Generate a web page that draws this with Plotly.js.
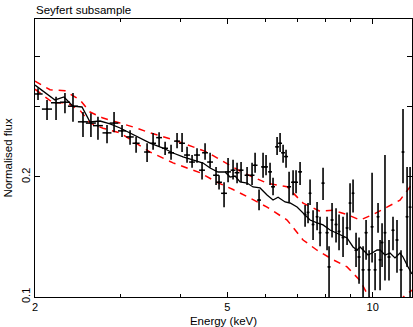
<!DOCTYPE html>
<html>
<head>
<meta charset="utf-8">
<script src="https://cdn.plot.ly/plotly-3.0.1.min.js"></script>
<style>html,body{margin:0;padding:0;background:#fff;}#chart{width:413px;height:327px;}</style>
</head>
<body>
<div id="chart"></div>
<script>
// Observed spectrum (energy in keV, normalised flux, error range)
const energy = [2.029,2.118,2.211,2.307,2.397,2.514,2.611,2.700,2.819,2.915,3.028,3.146,3.238,
  3.412,3.511,3.613,3.718,3.825,3.936,4.031,4.128,4.228,4.329,4.434,4.498,4.607,4.740,4.808,4.924,5.019,5.140,5.239,5.340,5.495,5.627,5.709,
  5.818,5.930,6.015,6.131,6.219,6.340,6.431,6.524,6.617,6.713,6.842,6.940,7.074,
  7.245,7.348,7.419,7.526,7.671,7.781,7.893,8.045,8.122,8.239,8.397,8.518,8.682,8.850,8.977,9.106,9.237,9.370,9.551,9.689,9.828,9.970,10.114,10.258,10.357,10.456,10.603,10.808,11.016,11.228,11.445,11.554,11.780,11.950];
const energyHalfWidth = [0.045,0.051,0.053,0.055,0.057,0.060,0.062,0.064,0.060,0.062,0.058,0.056,0.055,
  0.048,0.049,0.050,0.052,0.054,0.055,0.056,0.058,0.059,0.061,0.062,0.063,0.064,0.066,0.067,0.069,0.070,0.060,0.061,0.062,0.064,0.066,0.067,
  0.055,0.056,0.057,0.058,0.059,0.060,0.061,0.062,0.063,0.064,0.065,0.066,0.067,
  0.05,0.05,0.05,0.05,0.05,0.05,0.06,0.06,0.06,0.06,0.06,0.06,0.06,0.06,0.06,0.06,0.07,0.07,0.07,0.07,0.07,0.07,0.07,0.07,0.07,0.07,0.07,0.08,0.08,0.08,0.08,0.08,0.08,0.08];
const flux = [0.323,0.296,0.307,0.308,0.301,0.275,0.273,0.269,0.258,0.273,0.261,0.252,0.243,
  0.231,0.243,0.251,0.236,0.230,0.246,0.243,0.227,0.218,0.227,0.208,0.230,0.218,0.202,0.194,0.182,0.206,0.208,0.205,0.208,0.202,0.202,0.214,
  0.175,0.212,0.212,0.206,0.189,0.238,0.243,0.230,0.225,0.189,0.194,0.194,0.206,
  0.161,0.163,0.182,0.152,0.159,0.145,0.193,0.145,0.119,0.156,0.152,0.146,0.141,0.149,0.172,0.182,0.131,0.126,0.117,0.145,0.117,0.150,0.117,0.159,0.124,0.137,0.145,0.126,0.147,0.139,0.117,0.231,0.159,0.168];
const fluxLow = [0.312,0.278,0.278,0.289,0.275,0.252,0.252,0.248,0.243,0.259,0.252,0.241,0.230,
  0.218,0.234,0.238,0.227,0.221,0.236,0.231,0.217,0.211,0.217,0.197,0.221,0.211,0.191,0.186,0.168,0.194,0.197,0.193,0.194,0.191,0.191,0.205,
  0.165,0.199,0.202,0.191,0.180,0.227,0.231,0.217,0.211,0.173,0.180,0.182,0.191,
  0.150,0.153,0.170,0.139,0.147,0.134,0.175,0.131,0.100,0.141,0.137,0.131,0.126,0.135,0.147,0.163,0.119,0.108,0.098,0.124,0.095,0.122,0.104,0.145,0.104,0.119,0.110,0.110,0.131,0.115,0.095,0.193,0.119,0.095];
const fluxHigh = [0.334,0.312,0.318,0.325,0.325,0.291,0.289,0.283,0.270,0.291,0.270,0.262,0.252,
  0.243,0.258,0.259,0.245,0.241,0.258,0.258,0.238,0.227,0.236,0.218,0.243,0.230,0.212,0.202,0.194,0.223,0.221,0.217,0.218,0.212,0.217,0.230,
  0.186,0.230,0.227,0.217,0.199,0.252,0.258,0.241,0.234,0.206,0.208,0.208,0.218,
  0.170,0.172,0.197,0.165,0.173,0.159,0.211,0.159,0.134,0.172,0.167,0.161,0.159,0.163,0.193,0.197,0.145,0.141,0.134,0.156,0.131,0.205,0.129,0.172,0.139,0.153,0.227,0.139,0.159,0.156,0.131,0.296,0.212,0.212];

// Best-fit model (solid black)
const modelEnergy = [2.000,2.108,2.200,2.296,2.397,2.502,2.600,2.727,2.860,3.000,3.146,3.300,3.461,3.682,3.862,4.050,4.248,4.455,4.607,4.785,4.948,5.067,5.190,5.315,5.495,5.654,5.846,6.044,6.219,6.370,6.586,6.745,6.974,7.176,7.419,7.671,7.893,8.161,8.397,8.641,8.850,9.106,9.281,9.415,9.643,9.781,9.970,10.210,10.357,10.603,10.860,11.121,11.390,11.554,11.836,12.060];
const modelFlux = [0.340,0.325,0.312,0.3175,0.301,0.2996,0.2747,0.2763,0.2716,0.2654,0.2578,0.2505,0.2433,0.2364,0.2297,0.2245,0.2206,0.2168,0.2106,0.2058,0.2058,0.1999,0.2011,0.1943,0.1931,0.1888,0.1877,0.1802,0.1751,0.1779,0.1731,0.1721,0.1682,0.1625,0.1560,0.1534,0.1516,0.1472,0.1447,0.1422,0.1406,0.1335,0.1312,0.1335,0.1297,0.1274,0.1289,0.1312,0.1312,0.1274,0.1289,0.1253,0.1289,0.1260,0.1189,0.1142];

// Envelope (red dashed)
const upperEnergy = [2.000,2.148,2.307,2.478,2.600,2.766,3.000,3.191,3.461,3.862,4.248,4.542,4.831,5.392,6.044,6.649,7.176,7.781,8.279,8.850,9.415,10.017,10.706,11.390,11.950,12.060];
const upperFlux = [0.348,0.331,0.329,0.312,0.291,0.281,0.273,0.267,0.258,0.248,0.238,0.231,0.221,0.205,0.193,0.189,0.172,0.164,0.165,0.161,0.156,0.161,0.168,0.175,0.189,0.192];
const lowerEnergy = [2.000,2.179,2.329,2.478,2.600,2.766,3.000,3.253,3.461,3.862,4.392,4.762,5.140,5.574,6.044,6.649,7.176,7.671,8.279,8.850,9.415,9.735,10.114,10.603,11.121,11.666,12.060];
const lowerFlux = [0.332,0.307,0.307,0.294,0.273,0.265,0.258,0.243,0.231,0.217,0.205,0.194,0.186,0.177,0.168,0.156,0.139,0.131,0.124,0.119,0.110,0.102,0.0955,0.098,0.095,0.101,0.104];

const FONT = 'Liberation Sans, Arial, Helvetica, sans-serif';
const errPlus = fluxHigh.map((h, i) => h - flux[i]);
const errMinus = fluxLow.map((l, i) => flux[i] - l);

const traces = [
  {x: upperEnergy, y: upperFlux, mode: 'lines', line: {color: '#ff0000', width: 1.5, dash: '7px,6px'}, hoverinfo: 'skip', showlegend: false},
  {x: lowerEnergy, y: lowerFlux, mode: 'lines', line: {color: '#ff0000', width: 1.5, dash: '7px,6px'}, hoverinfo: 'skip', showlegend: false},
  {x: modelEnergy, y: modelFlux, mode: 'lines', line: {color: '#000000', width: 1.3}, showlegend: false},
  {x: energy, y: flux, mode: 'markers', marker: {color: '#000', size: 2},
   error_y: {type: 'data', symmetric: false, array: errPlus, arrayminus: errMinus, color: '#000', thickness: 1.6, width: 0},
   error_x: {type: 'data', array: energyHalfWidth, color: '#000', thickness: 1.5, width: 0},
   showlegend: false}
];

const axisCommon = {
  type: 'log', showgrid: false, zeroline: false, showline: true, linecolor: '#000', linewidth: 1,
  mirror: 'allticks', ticks: 'inside', ticklen: 5, tickcolor: '#000', tickwidth: 1,
  tickfont: {family: FONT, size: 11, color: '#000'}
};

const layout = {
  width: 413, height: 327,
  margin: {l: 35, r: 1, t: 19, b: 30, pad: 0},
  paper_bgcolor: '#fff', plot_bgcolor: '#fff',
  font: {family: FONT, color: '#000'},
  title: {text: 'Seyfert subsample', font: {family: FONT, size: 11.5, color: '#000'},
          xref: 'container', x: 36/413, xanchor: 'left', yref: 'container', y: 1 - 10/327, yanchor: 'middle'},
  xaxis: Object.assign({}, axisCommon, {
    range: [Math.log10(2), Math.log10(12.06)],
    tickmode: 'array', tickvals: [2, 5, 10], ticktext: ['2', '5', '10'],
    minor: {tickmode: 'array', tickvals: [3, 4, 6, 7, 8, 9], ticks: 'inside', ticklen: 3, tickcolor: '#000', showgrid: false},
    title: {text: 'Energy (keV)', font: {family: FONT, size: 11.5, color: '#000'}, standoff: 4}
  }),
  yaxis: Object.assign({}, axisCommon, {
    range: [-1, Math.log10(0.498)],
    tickmode: 'array', tickvals: [0.1, 0.2], ticktext: ['0.1', '0.2'], tickangle: -90,
    minor: {tickmode: 'array', tickvals: [0.3, 0.4], ticks: 'inside', ticklen: 5, tickcolor: '#000', showgrid: false},
    title: {text: 'Normalised flux', font: {family: FONT, size: 11.5, color: '#000'}, standoff: 4}
  })
};

Plotly.newPlot('chart', traces, layout, {displayModeBar: false, staticPlot: true});
</script>
</body>
</html>
